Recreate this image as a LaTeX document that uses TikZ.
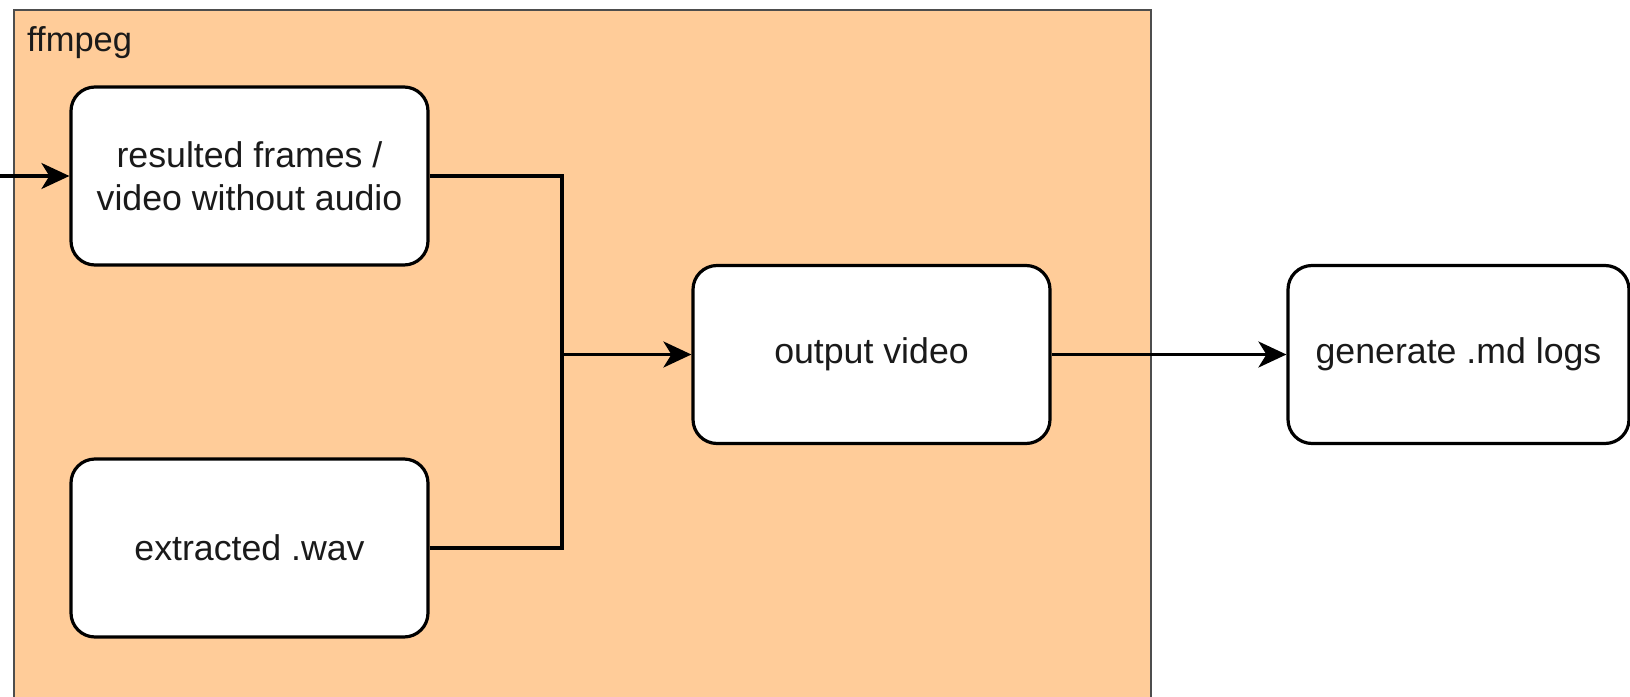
\documentclass[tikz,border=0pt]{standalone}
\usepackage{fontspec}
\setmainfont{Liberation Sans}
\usetikzlibrary{arrows.meta}
\definecolor{peach}{HTML}{FFCC99}
\definecolor{groupline}{HTML}{4D4D4D}
\definecolor{inktext}{HTML}{1A1A1A}
\tikzset{
  stepbox/.style={draw=black, line width=3.2pt, fill=white, rounded corners=24pt,
    minimum width=357pt, minimum height=178pt, inner sep=0pt, align=center,
    text=inktext, font=\fontsize{35.7}{42.8}\selectfont},
  flow/.style={line width=3.2pt, draw=black,
    -{Stealth[length=28pt, width=26pt, inset=8pt]}},
  joint/.style={line width=3.2pt, draw=black},
}
\begin{document}
\begin{tikzpicture}[x=1pt, y=-1pt]
  \clip (0,0) rectangle (1630,696);
  \useasboundingbox (0,0) rectangle (1630,696);

  % ffmpeg group
  \draw[fill=peach, draw=groupline, line width=2.8pt] (14,10) rectangle (1151,720);
  \node[anchor=base west, inner sep=0pt, text=inktext,
        font=\fontsize{34.5}{40}\selectfont] (grouplabel) at (27,51) {ffmpeg};

  % steps
  \node[stepbox] (frames) at (249.5,176) {resulted frames /\\video without audio};
  \node[stepbox] (wav) at (249.5,548) {extracted .wav};
  \node[stepbox] (out) at (871.5,354.5) {output video};
  \node[stepbox, minimum width=341pt] (logs) at (1458.5,354.5) {generate .md logs};

  % connectors
  \coordinate (src) at (-5,176);
  \coordinate (merge) at (562,354.5);
  \draw[flow] (src) -- (frames.west);
  \draw[joint] (frames.east) -| (merge);
  \draw[joint] (wav.east) -| (merge);
  \draw[flow] (merge) -- (out.west);
  \draw[flow] (out.east) -- (logs.west);
\end{tikzpicture}
\end{document}
